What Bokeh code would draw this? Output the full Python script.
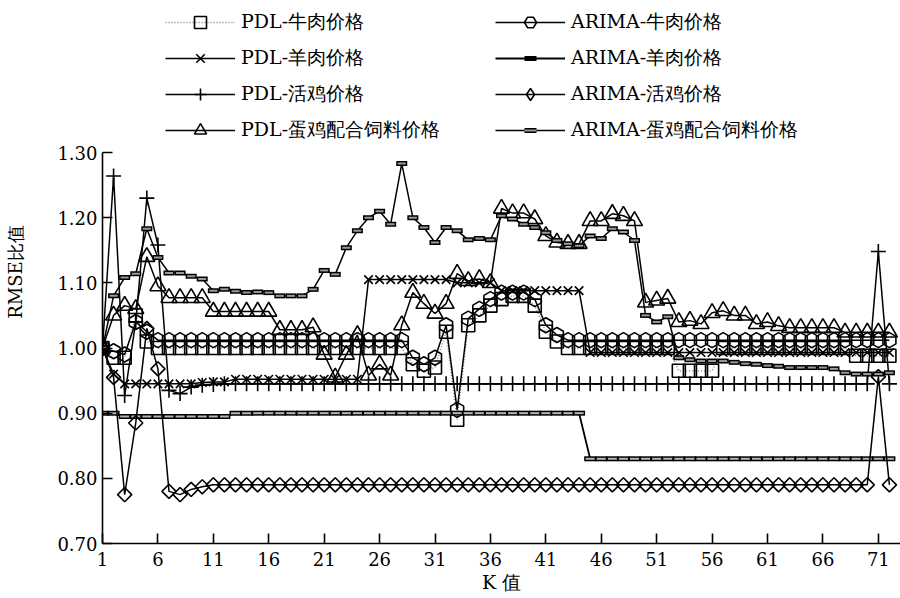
import math
from bokeh.plotting import figure
from bokeh.models import Legend, LegendItem, FixedTicker, NumeralTickFormatter, Range1d
from bokeh.embed import file_html
from bokeh.resources import INLINE

K = list(range(1, 73))

x_ticks = list(range(1, 72, 5))
y_ticks = [0.70, 0.80, 0.90, 1.00, 1.10, 1.20, 1.30]

pdl_beef = [1.00, 0.985, 0.985, 1.05, 1.01, 1.00, 1.00, 1.00, 1.00, 1.00,
            1.00, 1.00, 1.00, 1.00, 1.00, 1.00, 1.00, 1.00, 1.00, 1.00,
            1.00, 1.00, 1.00, 1.00, 1.00, 1.00, 1.00, 1.00, 0.975, 0.965,
            0.97, 1.025, 0.89, 1.035, 1.05, 1.065, 1.075, 1.08, 1.08, 1.065,
            1.025, 1.01, 1.00, 1.00, 1.00, 1.00, 1.00, 1.00, 1.00, 1.00,
            1.00, 1.00, 0.965, 0.965, 0.965, 0.965, 1.00, 1.00, 1.00, 1.00,
            1.00, 1.00, 1.00, 1.00, 1.00, 1.00, 1.00, 1.00, 0.988, 0.988,
            0.988, 0.988]

arima_beef = [1.00, 0.995, 0.99, 1.04, 1.025, 1.012, 1.012, 1.012, 1.012, 1.012,
              1.012, 1.012, 1.012, 1.012, 1.012, 1.012, 1.012, 1.012, 1.012, 1.012,
              1.012, 1.012, 1.012, 1.012, 1.012, 1.012, 1.012, 1.012, 0.985, 0.975,
              0.985, 1.035, 0.905, 1.045, 1.06, 1.075, 1.085, 1.085, 1.085, 1.075,
              1.035, 1.02, 1.012, 1.012, 1.012, 1.012, 1.012, 1.012, 1.012, 1.012,
              1.012, 1.012, 1.012, 1.012, 1.012, 1.012, 1.012, 1.012, 1.012, 1.012,
              1.012, 1.012, 1.012, 1.012, 1.012, 1.012, 1.012, 1.012, 1.012, 1.012,
              1.012, 1.012]

pdl_mutton = [1.00, 0.96, 0.945, 0.945, 0.945, 0.945, 0.945, 0.945, 0.945, 0.947,
              0.948, 0.948, 0.952, 0.952, 0.952, 0.952, 0.952, 0.952, 0.952, 0.952,
              0.952, 0.952, 0.952, 0.952, 1.105, 1.105, 1.105, 1.105, 1.105, 1.105,
              1.105, 1.105, 1.10, 1.10, 1.10, 1.10, 1.088, 1.088, 1.088, 1.088,
              1.088, 1.088, 1.088, 1.088, 0.993, 0.993, 0.993, 0.993, 0.993, 0.993,
              0.993, 0.993, 0.993, 0.993, 0.993, 0.993, 0.993, 0.993, 0.993, 0.993,
              0.993, 0.993, 0.993, 0.993, 0.993, 0.993, 0.993, 0.993, 0.993, 0.993,
              0.993, 0.993]

arima_mutton = [0.90, 0.90, 0.895, 0.895, 0.895, 0.895, 0.895, 0.895, 0.895, 0.895,
                0.895, 0.895, 0.90, 0.90, 0.90, 0.90, 0.90, 0.90, 0.90, 0.90,
                0.90, 0.90, 0.90, 0.90, 0.90, 0.90, 0.90, 0.90, 0.90, 0.90,
                0.90, 0.90, 0.90, 0.90, 0.90, 0.90, 0.90, 0.90, 0.90, 0.90,
                0.90, 0.90, 0.90, 0.90, 0.83, 0.83, 0.83, 0.83, 0.83, 0.83,
                0.83, 0.83, 0.83, 0.83, 0.83, 0.83, 0.83, 0.83, 0.83, 0.83,
                0.83, 0.83, 0.83, 0.83, 0.83, 0.83, 0.83, 0.83, 0.83, 0.83,
                0.83, 0.83]

pdl_chicken = [1.00, 1.264, 0.927, 1.04, 1.23, 1.158, 0.935, 0.93, 0.94, 0.943,
               0.944, 0.945, 0.945, 0.945, 0.945, 0.945, 0.945, 0.945, 0.945, 0.945,
               0.945, 0.945, 0.945, 0.945, 0.945, 0.945, 0.945, 0.945, 0.945, 0.945,
               0.945, 0.945, 0.945, 0.945, 0.945, 0.945, 0.945, 0.945, 0.945, 0.945,
               0.945, 0.945, 0.945, 0.945, 0.945, 0.945, 0.945, 0.945, 0.945, 0.945,
               0.945, 0.945, 0.945, 0.945, 0.945, 0.945, 0.945, 0.945, 0.945, 0.945,
               0.945, 0.945, 0.945, 0.945, 0.945, 0.945, 0.945, 0.945, 0.945, 0.945,
               1.148, 0.945]

arima_chicken = [1.00, 0.955, 0.775, 0.885, 1.03, 0.968, 0.78, 0.775, 0.783, 0.787,
                 0.79, 0.79, 0.79, 0.79, 0.79, 0.79, 0.79, 0.79, 0.79, 0.79,
                 0.79, 0.79, 0.79, 0.79, 0.79, 0.79, 0.79, 0.79, 0.79, 0.79,
                 0.79, 0.79, 0.79, 0.79, 0.79, 0.79, 0.79, 0.79, 0.79, 0.79,
                 0.79, 0.79, 0.79, 0.79, 0.79, 0.79, 0.79, 0.79, 0.79, 0.79,
                 0.79, 0.79, 0.79, 0.79, 0.79, 0.79, 0.79, 0.79, 0.79, 0.79,
                 0.79, 0.79, 0.79, 0.79, 0.79, 0.79, 0.79, 0.79, 0.79, 0.79,
                 0.956, 0.79]

pdl_feed = [1.00, 1.05, 1.065, 1.06, 1.14, 1.095, 1.077, 1.077, 1.077, 1.077,
            1.056, 1.056, 1.056, 1.056, 1.056, 1.056, 1.028, 1.028, 1.028, 1.032,
            0.99, 0.955, 0.99, 1.02, 0.958, 0.975, 0.958, 1.035, 1.085, 1.068,
            1.053, 1.068, 1.114, 1.103, 1.106, 1.10, 1.214, 1.207, 1.207, 1.198,
            1.172, 1.162, 1.16, 1.16, 1.195, 1.195, 1.206, 1.203, 1.195, 1.07,
            1.073, 1.076, 1.04, 1.042, 1.037, 1.054, 1.057, 1.05, 1.05, 1.037,
            1.04, 1.034, 1.031, 1.031, 1.031, 1.031, 1.031, 1.024, 1.024, 1.024,
            1.024, 1.024]

arima_feed = [1.00, 1.08, 1.108, 1.114, 1.183, 1.139, 1.115, 1.115, 1.11, 1.106,
              1.088, 1.09, 1.087, 1.085, 1.086, 1.085, 1.08, 1.08, 1.08, 1.09,
              1.119, 1.113, 1.154, 1.18, 1.20, 1.21, 1.19, 1.283, 1.20, 1.185,
              1.162, 1.185, 1.18, 1.166, 1.168, 1.166, 1.203, 1.198, 1.19, 1.185,
              1.177, 1.165, 1.16, 1.157, 1.172, 1.168, 1.183, 1.178, 1.165, 1.05,
              1.04, 1.048, 0.985, 0.982, 0.98, 0.98, 0.98, 0.978, 0.976, 0.975,
              0.973, 0.972, 0.97, 0.97, 0.97, 0.97, 0.968, 0.962, 0.96, 0.96,
              0.96, 0.962]

SERIF = "DejaVu Serif"

# The frame reaches the top of the canvas so that the legend (drawn inside it) is not clipped;
# the value axis itself is bounded to 0.70 .. 1.30.
FRAME_TOP = 0.70 + 0.60 * 543.0 / 391.0

p = figure(width=900, height=598, x_range=Range1d(1, 73), y_range=Range1d(0.70, FRAME_TOP),
           output_backend="svg", toolbar_location=None,
           min_border_left=102, min_border_top=0, min_border_bottom=55, min_border_right=0)
p.outline_line_color = None
p.grid.visible = False
p.background_fill_color = "white"

for ax in (p.xaxis[0], p.yaxis[0]):
    ax.axis_line_width = 1.6
    ax.major_tick_line_width = 1.6
    ax.major_tick_in = 10
    ax.major_tick_out = 0
    ax.minor_tick_line_color = None
    ax.major_label_text_font = SERIF
    ax.major_label_text_font_size = "18px"
    ax.major_label_text_color = "black"
    ax.axis_label_text_font = SERIF
    ax.axis_label_text_font_style = "normal"
    ax.axis_label_text_color = "black"
    ax.axis_line_color = "black"
    ax.major_tick_line_color = "black"

p.yaxis.bounds = (0.70, 1.30)
p.xaxis.ticker = FixedTicker(ticks=x_ticks)
p.yaxis.ticker = FixedTicker(ticks=y_ticks)
p.yaxis.formatter = NumeralTickFormatter(format="0.00")
p.xaxis.major_label_standoff = 8
p.yaxis.major_label_standoff = 5
p.xaxis.axis_label = "K 值"
p.yaxis.axis_label = "RMSE比值"
p.xaxis.axis_label_text_font_size = "19px"
p.yaxis.axis_label_text_font_size = "18px"
p.xaxis.axis_label_standoff = 2
p.yaxis.axis_label_standoff = 28

LW = 1.5
ML = 1.6

# PDL beef
l_pb = p.line(K, pdl_beef, line_color="#7a7a7a", line_width=1.3, line_dash="1 2")
m_pb = p.scatter(K, pdl_beef, marker="square", size=13, line_color="black", line_width=ML, fill_color=None)
# ARIMA beef
l_ab = p.line(K, arima_beef, line_color="black", line_width=LW)
m_ab = p.scatter(K, arima_beef, marker="hex", angle=math.pi / 2, size=15, line_color="black",
                 line_width=ML, fill_color=None)
# PDL mutton
l_pm = p.line(K, pdl_mutton, line_color="black", line_width=LW)
m_pm = p.scatter(K, pdl_mutton, marker="x", size=12, line_color="black", line_width=ML)
# ARIMA mutton
l_am = p.line(K, arima_mutton, line_color="black", line_width=1.8)
m_am1 = p.scatter(K, arima_mutton, marker="dash", size=12, line_color="black", line_width=5)
m_am2 = p.scatter(K, arima_mutton, marker="dash", size=9, line_color="#b5b5b5", line_width=2)
# PDL chicken
l_pc = p.line(K, pdl_chicken, line_color="black", line_width=LW)
m_pc = p.scatter(K, pdl_chicken, marker="cross", size=15, line_color="black", line_width=ML)
# ARIMA chicken
l_ac = p.line(K, arima_chicken, line_color="black", line_width=LW)
m_ac = p.scatter(K, arima_chicken, marker="square", angle=math.pi / 4, size=10, line_color="black",
                 line_width=ML, fill_color=None)
# legend-only sample of the diamond marker (a single undrawable NaN point)
m_ac_leg = p.scatter(x=[math.nan], y=[math.nan], marker="diamond", size=14, line_color="black",
                     line_width=ML, fill_color=None)
# PDL feed
l_pf = p.line(K, pdl_feed, line_color="black", line_width=LW)
m_pf = p.scatter(K, pdl_feed, marker="triangle", size=16, line_color="black", line_width=ML, fill_color=None)
# ARIMA feed
l_af = p.line(K, arima_feed, line_color="black", line_width=LW)
m_af1 = p.scatter(K, arima_feed, marker="dash", size=11, line_color="black", line_width=5)
m_af2 = p.scatter(K, arima_feed, marker="dash", size=8, line_color="#9a9a9a", line_width=2)

common = dict(glyph_width=70, glyph_height=30, label_height=30, label_standoff=6, spacing=6,
              padding=0, margin=0, border_line_color=None, background_fill_alpha=0,
              label_text_font=SERIF, label_text_font_size="19px", label_text_color="black")

leg_y = 543 - 145  # legend bottom edge, measured up from the frame bottom
leg1 = Legend(items=[
    LegendItem(label="PDL-牛肉价格", renderers=[l_pb, m_pb]),
    LegendItem(label="PDL-羊肉价格", renderers=[l_pm, m_pm]),
    LegendItem(label="PDL-活鸡价格", renderers=[l_pc, m_pc]),
    LegendItem(label="PDL-蛋鸡配合饲料价格", renderers=[l_pf, m_pf]),
], location=(63, leg_y), **common)
leg2 = Legend(items=[
    LegendItem(label="ARIMA-牛肉价格", renderers=[l_ab, m_ab]),
    LegendItem(label="ARIMA-羊肉价格", renderers=[l_am, m_am1]),
    LegendItem(label="ARIMA-活鸡价格", renderers=[l_ac, m_ac_leg]),
    LegendItem(label="ARIMA-蛋鸡配合饲料价格", renderers=[l_af, m_af1, m_af2]),
], location=(393, leg_y), **common)
p.add_layout(leg1, "center")
p.add_layout(leg2, "center")

open("out.html", "w").write(file_html(p, INLINE))
